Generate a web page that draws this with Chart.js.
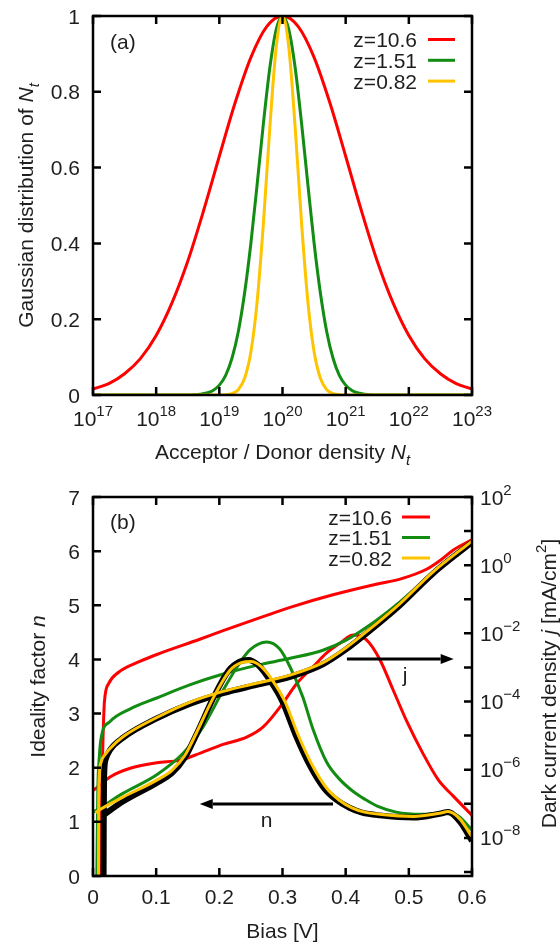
<!DOCTYPE html>
<html>
<head>
<meta charset="utf-8">
<script src="https://cdn.jsdelivr.net/npm/chart.js@4.4.1/dist/chart.umd.min.js"></script>
<style>
  html, body { margin: 0; padding: 0; background: #fff; }
  canvas { display: block; }
</style>
</head>
<body>
<canvas id="gaussChart" width="560" height="470"></canvas>
<canvas id="biasChart" width="560" height="475"></canvas>
<script>
// ---- (a) Gaussian distribution of N_t ----
const densityRed = [1e17, 1.778e17, 3.162e17, 5.623e17, 1e18, 1.778e18, 3.162e18, 5.623e18, 1e19, 1.778e19, 3.162e19, 5.623e19,
    1e20, 1.778e20, 3.162e20, 5.623e20, 1e21, 1.778e21, 3.162e21, 5.623e21, 1e22, 1.778e22, 3.162e22, 5.623e22, 1e23];
const gaussRed = [0.016, 0.030, 0.056, 0.096, 0.157, 0.243, 0.353, 0.486, 0.630, 0.771, 0.891, 0.972,
    1, 0.972, 0.891, 0.771, 0.630, 0.486, 0.353, 0.243, 0.157, 0.096, 0.056, 0.030, 0.016];

const densityGreen = [1e17, 3.162e18, 3.981e18, 5.012e18, 6.310e18, 7.943e18, 1e19, 1.259e19, 1.585e19, 1.995e19, 2.512e19,
    3.162e19, 3.981e19, 5.012e19, 6.310e19, 7.943e19, 1e20, 1.259e20, 1.585e20, 1.995e20, 2.512e20, 3.162e20, 3.981e20,
    5.012e20, 6.310e20, 7.943e20, 1e21, 1.259e21, 1.585e21, 1.995e21, 2.512e21, 3.162e21, 1e23];
const gaussGreen = [0, 0.0003, 0.0008, 0.0021, 0.0052, 0.012, 0.026, 0.052, 0.097, 0.167, 0.269, 0.401, 0.558, 0.720, 0.864, 0.964,
    1, 0.964, 0.864, 0.720, 0.558, 0.401, 0.269, 0.167, 0.097, 0.052, 0.026, 0.012, 0.0052, 0.0021, 0.0008, 0.0003, 0];

const densityYellow = [1e17, 1e19, 1.259e19, 1.585e19, 1.995e19, 2.512e19, 3.162e19, 3.981e19, 5.012e19, 6.310e19, 7.943e19,
    1e20, 1.259e20, 1.585e20, 1.995e20, 2.512e20, 3.162e20, 3.981e20, 5.012e20, 6.310e20, 7.943e20, 1e21, 1e23];
const gaussYellow = [0, 0.0002, 0.0009, 0.0039, 0.014, 0.044, 0.114, 0.249, 0.458, 0.707, 0.917,
    1, 0.917, 0.707, 0.458, 0.249, 0.114, 0.044, 0.014, 0.0039, 0.0009, 0.0002, 0];

// ---- (b) ideality factor n (left axis) ----
const biasNRed = [0, 0.006, 0.027, 0.059, 0.101, 0.138, 0.17, 0.206, 0.244, 0.269, 0.296, 0.323, 0.348, 0.37, 0.391, 0.412,
    0.433, 0.454, 0.475, 0.497, 0.522, 0.547, 0.57, 0.6];
const nRed = [1.58, 1.63, 1.83, 1.99, 2.09, 2.14, 2.27, 2.43, 2.57, 2.75, 3.12, 3.56, 3.86, 4.12, 4.3, 4.45,
    4.36, 4.0, 3.44, 2.85, 2.27, 1.77, 1.48, 1.12];

const biasNGreen = [0, 0.006, 0.048, 0.101, 0.143, 0.174, 0.206, 0.228, 0.248, 0.275, 0.295, 0.312, 0.332, 0.348, 0.37, 0.391,
    0.412, 0.43, 0.45, 0.48, 0.52, 0.55, 0.575, 0.6];
const nGreen = [1.18, 1.22, 1.53, 1.87, 2.27, 2.75, 3.43, 3.86, 4.17, 4.32, 4.2, 3.86, 3.31, 2.72, 2.1, 1.78,
    1.56, 1.42, 1.29, 1.18, 1.14, 1.16, 1.13, 0.85];

const biasNYellow = [0.004, 0.01, 0.048, 0.101, 0.125, 0.145, 0.164, 0.19, 0.217, 0.235, 0.25, 0.265, 0.285, 0.304, 0.325, 0.347,
    0.37, 0.39, 0.41, 0.43, 0.454, 0.507, 0.549, 0.562, 0.581, 0.6];
const nYellow = [1.17, 1.22, 1.46, 1.77, 1.95, 2.22, 2.65, 3.28, 3.8, 3.94, 3.96, 3.88, 3.6, 3.22, 2.6, 2.05,
    1.62, 1.4, 1.26, 1.18, 1.14, 1.1, 1.16, 1.19, 1.05, 0.72];

const biasNBlack = [0.016, 0.048, 0.101, 0.125, 0.145, 0.164, 0.19, 0.215, 0.232, 0.246, 0.261, 0.281, 0.30, 0.321, 0.343,
    0.366, 0.386, 0.406, 0.426, 0.454, 0.507, 0.549, 0.562, 0.581, 0.6];
const nBlack = [1.12, 1.38, 1.72, 1.9, 2.18, 2.62, 3.28, 3.8, 3.96, 3.99, 3.9, 3.6, 3.22, 2.6, 2.05,
    1.62, 1.4, 1.26, 1.17, 1.12, 1.08, 1.15, 1.18, 1.0, 0.65];

// ---- (b) dark current density j in mA/cm2 (right axis) ----
const biasJRed = [0.010, 0.014, 0.016, 0.018, 0.025, 0.04, 0.074, 0.101, 0.169, 0.206, 0.275, 0.312, 0.38, 0.45, 0.486, 0.528, 0.55, 0.57, 0.6];
const jRed = [1e-11, 3.9e-7, 1.05e-5, 9.5e-5, 3.4e-4, 7.1e-4, 1.5e-3, 2.4e-3, 6.7e-3, 1.2e-2, 3.36e-2, 5.8e-2, 0.135, 0.28, 0.39, 0.76, 1.4, 2.75, 5.6];

const biasJGreen = [0.005, 0.0075, 0.010, 0.013, 0.027, 0.059, 0.101, 0.153, 0.206, 0.259, 0.312, 0.364, 0.40, 0.433, 0.486, 0.538, 0.6];
const jGreen = [1e-11, 1.9e-7, 2.4e-6, 8.8e-6, 2.6e-5, 6.1e-5, 1.27e-4, 3.07e-4, 6.4e-4, 1.15e-3, 1.85e-3, 3.2e-3, 6.2e-3, 1.5e-2, 8.4e-2, 0.59, 4.7];

const biasJYellow = [0.0085, 0.009, 0.0098, 0.013, 0.02, 0.027, 0.048, 0.101, 0.153, 0.206, 0.259, 0.312, 0.364, 0.40, 0.433, 0.486, 0.538, 0.6];
const jYellow = [1e-11, 6.2e-8, 5.6e-7, 1.7e-6, 2.9e-6, 4.2e-6, 9.4e-6, 3.4e-5, 9.5e-5, 1.98e-4, 3.43e-4, 5.94e-4, 1.38e-3, 3.72e-3, 1.12e-2, 7.5e-2, 0.63, 5.1];

const biasJBlack = [0.0165, 0.017, 0.0175, 0.020, 0.027, 0.048, 0.101, 0.153, 0.206, 0.259, 0.312, 0.364, 0.40, 0.433, 0.486, 0.538, 0.6];
const jBlack = [1e-11, 3.0e-8, 5.6e-7, 2.0e-6, 3.8e-6, 8.8e-6, 3.2e-5, 8.5e-5, 1.77e-4, 3.07e-4, 5.3e-4, 1.24e-3, 3.33e-3, 1.0e-2, 6.7e-2, 0.565, 4.7];

// tick positions / labels
const densityTickExps = [17, 18, 19, 20, 21, 22, 23];
const gaussTicks = [0, 0.2, 0.4, 0.6, 0.8, 1];
const biasTicks = [0, 0.1, 0.2, 0.3, 0.4, 0.5, 0.6];
const idealityTicks = [0, 1, 2, 3, 4, 5, 6, 7];
const currentTickExps = [-9, -8, -7, -6, -5, -4, -3, -2, -1, 0, 1, 2];

// ---- styling ----
const RED = '#ff0000';
const GREEN = '#138c13';
const YELLOW = '#ffc400';
const BLACK = '#000000';
const INK = '#1e1e1e';
const FONT = '"Liberation Sans", Arial, sans-serif';
const TICK = 8;

function pairs(xs, ys) {
    return xs.map((x, i) => ({ x: x, y: ys[i] }));
}

function curve(label, xs, ys, color, width, order, axis) {
    return {
        label: label,
        data: pairs(xs, ys),
        yAxisID: axis || 'y',
        borderColor: color,
        borderWidth: width,
        pointRadius: 0,
        fill: false,
        cubicInterpolationMode: 'monotone',
        borderJoinStyle: 'round',
        order: order
    };
}

function setFont(ctx, size, italic) {
    ctx.font = (italic ? 'italic ' : '') + size + 'px ' + FONT;
}

// rich text: parts = [{t, i (italic), s ('sub' | 'sup')}]
function richWidth(ctx, parts) {
    let w = 0;
    parts.forEach(p => { setFont(ctx, p.s ? 15 : 21, p.i); w += ctx.measureText(p.t).width; });
    return w;
}

function drawRich(ctx, parts, x, y, align) {
    const w = richWidth(ctx, parts);
    let cx = align === 'left' ? x : align === 'right' ? x - w : x - w / 2;
    ctx.textAlign = 'left';
    ctx.textBaseline = 'alphabetic';
    ctx.fillStyle = INK;
    parts.forEach(p => {
        setFont(ctx, p.s ? 15 : 21, p.i);
        const dy = p.s === 'sub' ? 6 : p.s === 'sup' ? -10 : 0;
        ctx.fillText(p.t, cx, y + dy);
        cx += ctx.measureText(p.t).width;
    });
}

function drawVertical(ctx, parts, x, y) {
    ctx.save();
    ctx.translate(x, y);
    ctx.rotate(-Math.PI / 2);
    drawRich(ctx, parts, 0, 0, 'center');
    ctx.restore();
}

function powLabel(exp) {
    return [{ t: '10' }, { t: String(exp).replace('-', '\u2212'), s: 'sup' }];
}

function tickMarks(chart, scaleId, values, sides) {
    const ctx = chart.ctx, a = chart.chartArea, sc = chart.scales[scaleId];
    ctx.beginPath();
    values.forEach(v => {
        const p = sc.getPixelForValue(v);
        sides.forEach(side => {
            if (side === 'bottom') { ctx.moveTo(p, a.bottom); ctx.lineTo(p, a.bottom - TICK); }
            if (side === 'top') { ctx.moveTo(p, a.top); ctx.lineTo(p, a.top + TICK); }
            if (side === 'left') { ctx.moveTo(a.left, p); ctx.lineTo(a.left + TICK, p); }
            if (side === 'right') { ctx.moveTo(a.right, p); ctx.lineTo(a.right - TICK, p); }
        });
    });
    ctx.stroke();
}

function drawBorder(chart) {
    const ctx = chart.ctx, a = chart.chartArea;
    ctx.strokeStyle = BLACK;
    ctx.lineWidth = 2.5;
    ctx.strokeRect(a.left, a.top, a.right - a.left, a.bottom - a.top);
}

function drawLegend(chart, textRight, lineFrom, lineTo, top, step) {
    const ctx = chart.ctx;
    chart.data.datasets.filter(d => d.label).forEach((d, i) => {
        const y = top + i * step;
        setFont(ctx, 21, false);
        ctx.fillStyle = INK;
        ctx.textAlign = 'right';
        ctx.textBaseline = 'alphabetic';
        ctx.fillText(d.label, textRight, y + 7.5);
        ctx.strokeStyle = d.borderColor;
        ctx.lineWidth = d.borderWidth;
        ctx.beginPath();
        ctx.moveTo(lineFrom, y);
        ctx.lineTo(lineTo, y);
        ctx.stroke();
    });
}

function arrow(ctx, x0, x1, y) {
    const dir = Math.sign(x1 - x0), head = 13;
    ctx.strokeStyle = BLACK;
    ctx.fillStyle = BLACK;
    ctx.lineWidth = 3;
    ctx.beginPath();
    ctx.moveTo(x0, y);
    ctx.lineTo(x1 - dir * head, y);
    ctx.stroke();
    ctx.beginPath();
    ctx.moveTo(x1, y);
    ctx.lineTo(x1 - dir * head, y - 5);
    ctx.lineTo(x1 - dir * head, y + 5);
    ctx.closePath();
    ctx.fill();
}

const commonOptions = {
    responsive: false,
    animation: false,
    events: []
};

// ---- panel (a) ----
const gaussFrame = {
    id: 'gaussFrame',
    afterDatasetsDraw(chart) {
        const ctx = chart.ctx;
        ctx.save();
        ctx.strokeStyle = BLACK;
        ctx.lineWidth = 2.5;
        tickMarks(chart, 'x', densityTickExps.map(e => Math.pow(10, e)), ['bottom', 'top']);
        tickMarks(chart, 'y', gaussTicks, ['left', 'right']);
        drawBorder(chart);
        ctx.restore();
    },
    afterDraw(chart) {
        const ctx = chart.ctx, a = chart.chartArea;
        const sx = chart.scales.x, sy = chart.scales.y;
        ctx.save();
        gaussTicks.forEach(v => {
            setFont(ctx, 21, false);
            ctx.fillStyle = INK;
            ctx.textAlign = 'right';
            ctx.textBaseline = 'alphabetic';
            ctx.fillText(String(v), a.left - 13, sy.getPixelForValue(v) + 7.5);
        });
        densityTickExps.forEach(e => {
            drawRich(ctx, powLabel(e), sx.getPixelForValue(Math.pow(10, e)), a.bottom + 31, 'center');
        });
        const midX = (a.left + a.right) / 2, midY = (a.top + a.bottom) / 2;
        drawRich(ctx, [{ t: 'Acceptor / Donor density ' }, { t: 'N', i: true }, { t: 't', i: true, s: 'sub' }],
            midX, a.bottom + 64, 'center');
        drawVertical(ctx, [{ t: 'Gaussian distribution of ' }, { t: 'N', i: true }, { t: 't', i: true, s: 'sub' }],
            33, midY);
        drawRich(ctx, [{ t: '(a)' }], a.left + 17, a.top + 33, 'left');
        drawLegend(chart, a.right - 55, a.right - 44, a.right - 17, a.top + 23.5, 20.8);
        ctx.restore();
    }
};

new Chart(document.getElementById('gaussChart'), {
    type: 'line',
    data: {
        datasets: [
            curve('z=10.6', densityRed, gaussRed, RED, 3, 3),
            curve('z=1.51', densityGreen, gaussGreen, GREEN, 3, 2),
            curve('z=0.82', densityYellow, gaussYellow, YELLOW, 3, 1)
        ]
    },
    options: Object.assign({}, commonOptions, {
        layout: { padding: { left: 93, top: 16, right: 88, bottom: 75 } },
        plugins: { legend: { display: false }, tooltip: { enabled: false } },
        scales: {
            x: { type: 'logarithmic', min: 1e17, max: 1e23, display: false },
            y: { type: 'linear', min: 0, max: 1, display: false }
        }
    }),
    plugins: [gaussFrame]
});

// ---- panel (b) ----
const biasFrame = {
    id: 'biasFrame',
    afterDatasetsDraw(chart) {
        const ctx = chart.ctx;
        ctx.save();
        ctx.strokeStyle = BLACK;
        ctx.lineWidth = 2.5;
        tickMarks(chart, 'x', biasTicks, ['bottom', 'top']);
        tickMarks(chart, 'y', idealityTicks, ['left']);
        tickMarks(chart, 'y2', currentTickExps.map(e => Math.pow(10, e)), ['right']);
        drawBorder(chart);
        ctx.restore();
    },
    afterDraw(chart) {
        const ctx = chart.ctx, a = chart.chartArea;
        const sx = chart.scales.x, sy = chart.scales.y, sy2 = chart.scales.y2;
        ctx.save();
        idealityTicks.forEach(v => {
            setFont(ctx, 21, false);
            ctx.fillStyle = INK;
            ctx.textAlign = 'right';
            ctx.textBaseline = 'alphabetic';
            ctx.fillText(String(v), a.left - 13, sy.getPixelForValue(v) + 7.5);
        });
        biasTicks.forEach(v => {
            drawRich(ctx, [{ t: String(v) }], sx.getPixelForValue(v), a.bottom + 28, 'center');
        });
        currentTickExps.filter(e => e % 2 === 0).forEach(e => {
            drawRich(ctx, powLabel(e), a.right + 8, sy2.getPixelForValue(Math.pow(10, e)) + 7.5, 'left');
        });
        const midX = (a.left + a.right) / 2, midY = (a.top + a.bottom) / 2;
        drawRich(ctx, [{ t: 'Bias [V]' }], midX, a.bottom + 62, 'center');
        drawVertical(ctx, [{ t: 'Ideality factor ' }, { t: 'n', i: true }], 45, midY);
        drawVertical(ctx, [{ t: 'Dark current density ' }, { t: 'j', i: true }, { t: ' [mA/cm' }, { t: '2', s: 'sup' }, { t: ']' }],
            556, midY - 3);
        drawRich(ctx, [{ t: '(b)' }], a.left + 17, a.top + 32, 'left');

        // arrows telling which axis each family of curves belongs to
        arrow(ctx, sx.getPixelForValue(0.38), sx.getPixelForValue(0.169), sy.getPixelForValue(1.33));
        arrow(ctx, sx.getPixelForValue(0.402), sx.getPixelForValue(0.571), sy.getPixelForValue(4.01));
        drawRich(ctx, [{ t: 'n' }], sx.getPixelForValue(0.275), sy.getPixelForValue(0.9), 'center');
        drawRich(ctx, [{ t: 'j' }], sx.getPixelForValue(0.494), sy.getPixelForValue(3.58), 'center');

        drawLegend(chart, a.right - 80, a.right - 70, a.right - 42, a.top + 20, 20.5);
        ctx.restore();
    }
};

new Chart(document.getElementById('biasChart'), {
    type: 'line',
    data: {
        datasets: [
            curve('z=10.6', biasNRed, nRed, RED, 3, 4),
            curve('z=1.51', biasNGreen, nGreen, GREEN, 3, 3),
            curve('z=0.82', biasNYellow, nYellow, YELLOW, 3, 1),
            curve('', biasJRed, jRed, RED, 3, 4, 'y2'),
            curve('', biasJGreen, jGreen, GREEN, 3, 3, 'y2'),
            curve('', biasJYellow, jYellow, YELLOW, 3, 1, 'y2'),
            curve('', biasNBlack, nBlack, BLACK, 6, 2),
            curve('', biasJBlack, jBlack, BLACK, 6, 2, 'y2')
        ]
    },
    options: Object.assign({}, commonOptions, {
        layout: { padding: { left: 93, top: 27, right: 88, bottom: 69 } },
        plugins: { legend: { display: false }, tooltip: { enabled: false } },
        scales: {
            x: { type: 'linear', min: 0, max: 0.6, display: false },
            y: { type: 'linear', position: 'left', min: 0, max: 7, display: false },
            y2: { type: 'logarithmic', position: 'right', min: 7.62e-10, max: 100, display: false }
        }
    }),
    plugins: [biasFrame]
});
</script>
</body>
</html>
